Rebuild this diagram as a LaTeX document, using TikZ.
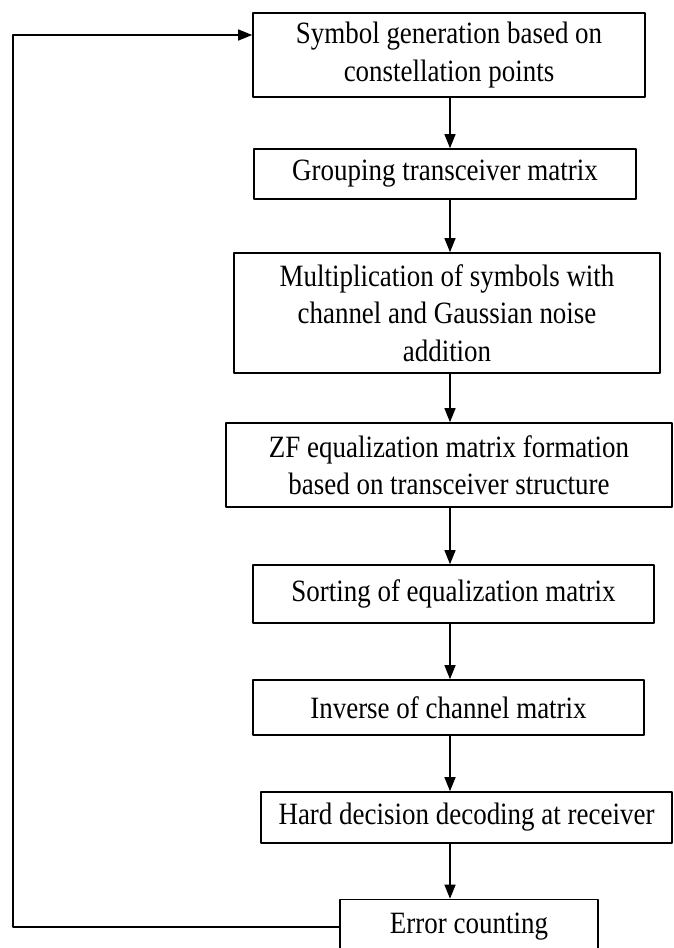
\documentclass[tikz,border=0pt]{standalone}
\usepackage{fontspec}
\setmainfont[FakeStretch=0.87]{Liberation Serif}
\usetikzlibrary{arrows.meta}
\begin{document}
\begin{tikzpicture}[x=1pt,y=-1pt,>={Triangle[length=14pt,width=11pt]}, line join=round,
	font=\fontsize{31}{37.5}\selectfont,
	blk/.style={draw,line width=1.6pt,inner sep=0pt,align=center},
	flw/.style={->,line width=1.3pt}]
	\useasboundingbox (0,0) rectangle (674,948);
	\def\ax{450} \def\fx{13} \def\fy{35} % arrow column, feedback line
	\node[blk,minimum width=392pt,minimum height=84pt] (b1) at (449,55) {Symbol generation based on\\constellation points};
	\node[blk,minimum width=382pt,minimum height=50pt] (b2) at (445,174) {Grouping transceiver matrix};
	\node[blk,minimum width=426pt,minimum height=120pt] (b3) at (447,313) {Multiplication of symbols with\\channel and Gaussian noise\\addition};
	\node[blk,minimum width=446pt,minimum height=84pt] (b4) at (449,465) {ZF equalization matrix formation\\based on transceiver structure};
	\node[blk,minimum width=401pt,minimum height=58pt] (b5) at (453.5,594) {Sorting of equalization matrix};
	\node[blk,minimum width=391pt,minimum height=55pt] (b6) at (448.5,707.5) {Inverse of channel matrix};
	\node[blk,minimum width=411pt,minimum height=51pt] (b7) at (466.5,817.5) {Hard decision decoding at receiver};
	\node[blk,minimum width=258pt,minimum height=55pt] (b8) at (469,927) {Error counting};
	\coordinate (ax) at (\ax,0);
	\coordinate (fb) at (\fx,\fy);
	\foreach \i/\j in {b1/b2,b2/b3,b3/b4,b4/b5,b5/b6,b6/b7,b7/b8}
		\draw[flw] (\i.south -| ax) -- (\j.north -| ax);
	\draw[flw] (b8.west) -| (fb) -- (fb -| b1.west);
\end{tikzpicture}
\end{document}
